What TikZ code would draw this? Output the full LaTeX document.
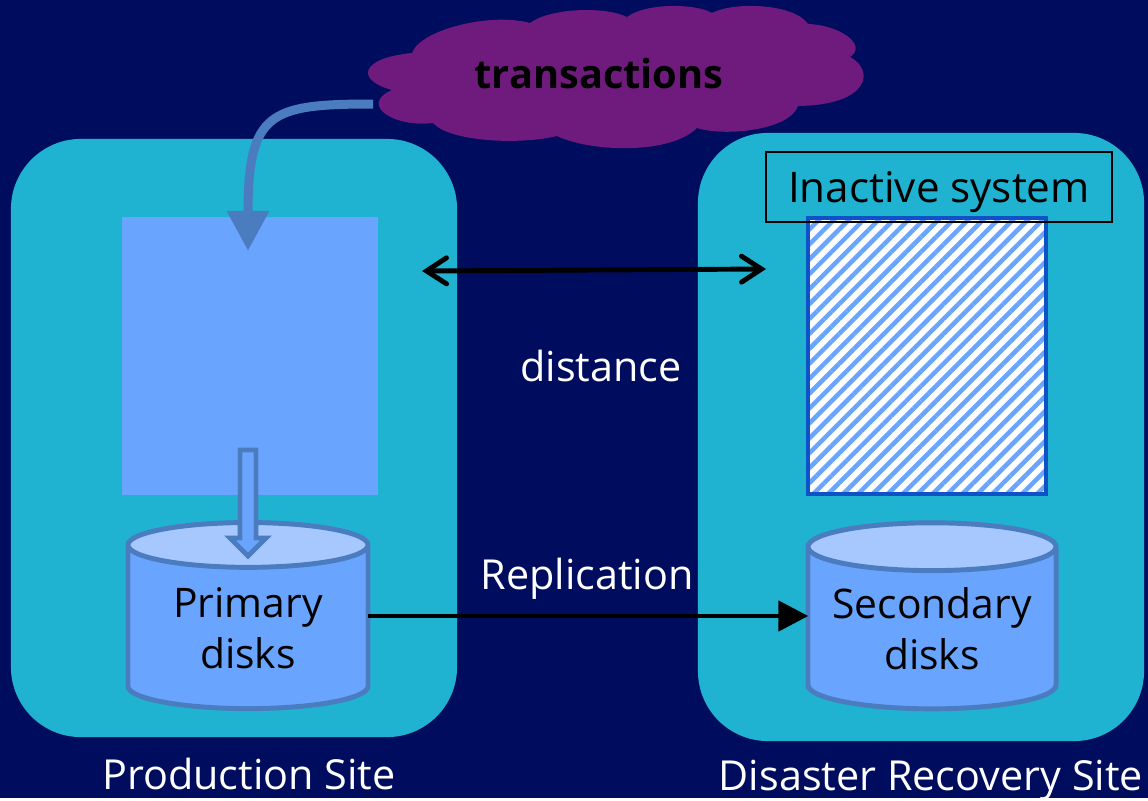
\documentclass[tikz,border=0pt]{standalone}
\usepackage{fontspec}
\setmainfont{Open Sans}
\usetikzlibrary{arrows.meta,shapes.geometric,patterns.meta}
\definecolor{bgnavy}{HTML}{000D5E}
\definecolor{sitecyan}{HTML}{1FB3D1}
\definecolor{sysblue}{HTML}{69A5FF}
\definecolor{disktop}{HTML}{A6C8FF}
\definecolor{edgeblue}{HTML}{4A7CBF}
\definecolor{cloudpurple}{HTML}{6F1B7D}
\definecolor{hatchedge}{HTML}{0F52C8}
\begin{document}
\begin{tikzpicture}[x=0.025cm,y=-0.025cm,
    site/.style={fill=sitecyan, rounded corners=1.75cm, minimum width=11.15cm, inner sep=0pt},
    disk/.style={cylinder, shape border rotate=90, draw=edgeblue, line width=3.5pt,
        cylinder uses custom fill, cylinder body fill=sysblue, cylinder end fill=disktop,
        minimum height=4.65cm, inner sep=0pt, align=center, font=\fontsize{29}{36}\selectfont},
    caption/.style={text=white, font=\fontsize{29.4}{35}\selectfont, inner sep=0pt},
    flow/.style={draw=black, line width=3.5pt}
]
% --- Hintergrund ---
\fill[bgnavy] (0,0) rectangle (1148,798);
% --- Standorte ---
\node[site, minimum height=14.95cm] (prodsite) at (234,438) {};
\node[site, minimum height=15.2cm] (drsite) at (921,437) {};
\node[caption] (prodlabel) at (249,774) {Production Site};
\node[caption] (drlabel) at (931,780) {Disaster Recovery Site};
% --- Wolke ---
\fill[cloudpurple] (412,53) .. controls (420,30) and (490,12) .. (530,23)
    .. controls (550,8) and (605,6) .. (627,17)
    .. controls (645,3) and (695,3) .. (712,13)
    .. controls (735,1) and (795,4) .. (808,24)
    .. controls (840,25) and (868,45) .. (850,57)
    .. controls (875,70) and (870,105) .. (798,106)
    .. controls (790,130) and (725,137) .. (697,128)
    .. controls (670,155) and (590,152) .. (557,136)
    .. controls (520,145) and (450,142) .. (433,123)
    .. controls (395,128) and (358,105) .. (392,90)
    .. controls (355,80) and (360,58) .. (412,53) -- cycle;
\node[font=\fontsize{28.3}{34}\selectfont\bfseries, inner sep=0pt] (txlabel) at (599,74) {transactions};
% --- Systeme ---
\node[fill=sysblue, minimum width=6.4cm, minimum height=6.95cm, inner sep=0pt] (prodsys) at (250,356) {};
\node[draw=hatchedge, line width=2.8pt, minimum width=5.95cm, minimum height=6.9cm, inner sep=0pt,
    preaction={fill=white},
    pattern={Lines[angle=45,distance=7.5pt,line width=3.2pt]}, pattern color=sysblue] (drsys) at (927,356) {};
\node[draw=black, line width=1pt, minimum width=8.65cm, minimum height=1.75cm, inner sep=0pt,
    text height=27.5pt, text depth=6pt, font=\fontsize{30}{36}\selectfont] (inactive) at (939,187) {Inactive system};
% --- Platten ---
\node[disk, minimum width=6cm, shape aspect=0.3] (primary) at (248,628) {Primary\\disks};
\node[disk, minimum width=6.2cm, shape aspect=0.24] (secondary) at (932,629) {Secondary\\disks};
% --- Pfeile ---
\coordinate (txout) at (373,104);
\coordinate (txin) at (248,251);
\draw[edgeblue, line width=6.4pt, -{Triangle[length=1cm,width=1cm]}] (txout) .. controls (270,104) and (248,112) .. (txin);
\draw[edgeblue, line width=3.5pt, line join=miter, fill=sysblue] (240,450) -- (256,450) -- (256,538) -- (266,538)
    -- (248,556) -- (230,538) -- (240,538) -- cycle;
\coordinate (distleft) at (422,271);
\coordinate (distright) at (766,269);
\coordinate (replrow) at (0,616);
\draw[flow, >={Straight Barb[length=0.5cm,width=0.65cm,line cap=round]}, <->] (distleft) -- (distright);
\draw[flow, shorten <=-2pt, shorten >=-2pt, -{Triangle[length=0.75cm,width=0.75cm]}] (primary.east |- replrow) -- (secondary.west |- replrow);
\node[caption] (distlabel) at (601,366) {distance};
\node[caption] (repllabel) at (587,579) {Replication};
\end{tikzpicture}
\end{document}
